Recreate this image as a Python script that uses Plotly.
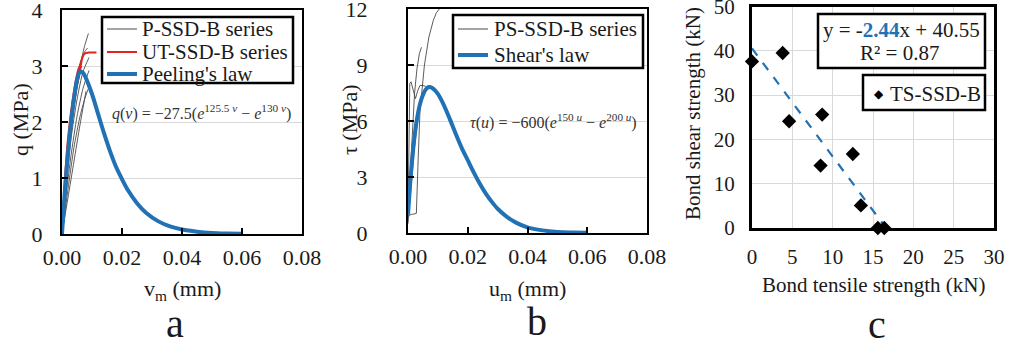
import plotly.graph_objects as go

# ---------------- data ----------------
# Panel a: peeling
peel_v = [0, 0.001, 0.002, 0.003, 0.004, 0.005, 0.006, 0.007, 0.008, 0.010, 0.012, 0.014,
          0.016, 0.018, 0.020, 0.022, 0.025, 0.028, 0.032, 0.036, 0.040, 0.045, 0.050, 0.055, 0.060]
peel_q = [0, 0.80, 1.45, 1.98, 2.42, 2.75, 2.90, 2.88, 2.78, 2.50, 2.15, 1.80,
          1.48, 1.20, 0.98, 0.78, 0.55, 0.38, 0.23, 0.135, 0.08, 0.042, 0.02, 0.01, 0.004]

p_ssd_v = [
    [0, 0.001, 0.002, 0.004, 0.006, 0.0075, 0.0088],
    [0, 0.001, 0.002, 0.004, 0.006, 0.0075, 0.0085],
    [0, 0.0015, 0.003, 0.005, 0.007, 0.009],
    [0, 0.0015, 0.003, 0.005, 0.007, 0.009],
    [0, 0.002, 0.004, 0.006, 0.0075, 0.0088],
    [0, 0.002, 0.004, 0.006, 0.008],
    [0, 0.001, 0.003, 0.005, 0.0065],
]
p_ssd_q = [
    [0, 0.70, 1.30, 2.30, 3.00, 3.35, 3.58],
    [0, 0.80, 1.45, 2.45, 3.05, 3.25, 3.32],
    [0, 0.90, 1.70, 2.40, 2.90, 3.15],
    [0, 0.75, 1.40, 2.10, 2.60, 2.92],
    [0, 0.80, 1.55, 2.10, 2.40, 2.60],
    [0, 0.65, 1.30, 1.95, 2.55],
    [0, 0.90, 1.90, 2.60, 3.00],
]
ut_ssd_v = [
    [0, 0.001, 0.002, 0.004, 0.006, 0.0068, 0.0075, 0.009, 0.0115],
    [0, 0.001, 0.002, 0.004, 0.0055, 0.0065],
]
ut_ssd_q = [
    [0, 0.90, 1.50, 2.35, 2.95, 3.15, 3.22, 3.24, 3.24],
    [0, 1.00, 1.70, 2.55, 2.95, 3.05],
]

# Panel b: shear
shear_u = [0, 0.001, 0.002, 0.003, 0.004, 0.005, 0.006, 0.007, 0.008, 0.010, 0.012, 0.014,
           0.016, 0.018, 0.020, 0.022, 0.024, 0.026, 0.028, 0.030, 0.033, 0.036, 0.040,
           0.045, 0.050, 0.055, 0.060]
shear_t = [1.0, 3.2, 4.9, 6.1, 6.9, 7.4, 7.7, 7.82, 7.78, 7.45, 6.85, 6.1,
           5.3, 4.55, 3.9, 3.25, 2.65, 2.12, 1.68, 1.30, 0.88, 0.57, 0.30,
           0.14, 0.06, 0.03, 0.01]

ps_ssd_u = [
    [0.0004, 0.0008, 0.0015, 0.0028, 0.0033, 0.004, 0.0055, 0.007, 0.0085, 0.0095, 0.0105],
    [0, 0.0008, 0.0015, 0.0022, 0.003, 0.0038, 0.0045],
    [0, 0.0003, 0.0006, 0.001, 0.0018, 0.0025, 0.0032, 0.004, 0.005, 0.006],
    [0, 0.001, 0.002, 0.003, 0.004, 0.005, 0.0065],
]
ps_ssd_t = [
    [0.9, 1.0, 1.0, 1.05, 3.5, 6.5, 9.0, 10.5, 11.4, 11.8, 12.0],
    [1.0, 3.5, 5.8, 7.5, 8.8, 9.6, 9.95],
    [0.8, 5.0, 8.0, 8.1, 7.6, 7.2, 7.6, 7.9, 7.9, 7.85],
    [0.5, 2.5, 4.3, 5.8, 6.8, 7.4, 7.9],
]

# Panel c: tensile vs shear
tensile_kn = [0, 3.8, 4.6, 8.7, 8.5, 12.5, 13.5, 15.6, 16.4]
shear_kn = [37.6, 39.5, 24.1, 25.6, 14.1, 16.7, 5.1, 0, 0]
trend_slope = -2.44
trend_intercept = 40.55
trend_x = [0, 16.6]

x_ticks_ab = [0, 0.02, 0.04, 0.06, 0.08]
y_ticks_a = [0, 1, 2, 3, 4]
y_ticks_b = [0, 3, 6, 9, 12]
x_ticks_c = [0, 5, 10, 15, 20, 25, 30]
y_ticks_c = [0, 10, 20, 30, 40, 50]

# ---------------- style ----------------
W, H = 1009, 347
FONT = "Liberation Serif, Times New Roman, Tinos, DejaVu Serif, serif"
BLUE = "#2171b5"
RED = "#e3241b"
GRAY = "#4a4a4a"
GRID = "#d9d9d9"


def px(x):
    return x / W


def py(y):
    return 1 - y / H


fig = go.Figure()

# Panel a traces
for v, q in zip(p_ssd_v, p_ssd_q):
    fig.add_trace(go.Scatter(x=v, y=q, mode="lines", line=dict(color=GRAY, width=0.9, shape="spline", smoothing=0.6),
                             showlegend=False, xaxis="x", yaxis="y"))
for v, q in zip(ut_ssd_v, ut_ssd_q):
    fig.add_trace(go.Scatter(x=v, y=q, mode="lines", line=dict(color=RED, width=2, shape="spline", smoothing=0.6),
                             showlegend=False, xaxis="x", yaxis="y"))
fig.add_trace(go.Scatter(x=peel_v, y=peel_q, mode="lines", line=dict(color=BLUE, width=4, shape="spline", smoothing=0.8),
                         showlegend=False, xaxis="x", yaxis="y"))

# Panel b traces
for u, t in zip(ps_ssd_u, ps_ssd_t):
    fig.add_trace(go.Scatter(x=u, y=t, mode="lines", line=dict(color=GRAY, width=0.9),
                             showlegend=False, xaxis="x2", yaxis="y2"))
fig.add_trace(go.Scatter(x=shear_u, y=shear_t, mode="lines", line=dict(color=BLUE, width=4, shape="spline", smoothing=0.8),
                         showlegend=False, xaxis="x2", yaxis="y2"))

# Panel c traces
trend_y = [trend_slope * x + trend_intercept for x in trend_x]
fig.add_trace(go.Scatter(x=trend_x, y=trend_y, mode="lines", line=dict(color=BLUE, width=2.2, dash="dash"),
                         showlegend=False, xaxis="x3", yaxis="y3"))
fig.add_trace(go.Scatter(x=tensile_kn, y=shear_kn, mode="markers",
                         marker=dict(symbol="diamond", size=11, color="black"),
                         showlegend=False, xaxis="x3", yaxis="y3", cliponaxis=False))

tickfont = dict(family=FONT, size=22, color="#1a1a1a")
tickfont_c = dict(family=FONT, size=21, color="#1a1a1a")


def ax(domain, anchor, rng, tv, fmt, lw, grid, font, standoff, ticks):
    return dict(domain=domain, anchor=anchor, range=rng, tickvals=tv, tickformat=fmt,
                showline=True, mirror=True, linecolor="black", linewidth=lw,
                showgrid=grid, gridcolor=GRID, gridwidth=1, zeroline=False,
                ticks=ticks, ticklen=6, tickwidth=1.5, tickcolor="black",
                tickfont=font, ticklabelstandoff=standoff, ticklabeloverflow="allow",
                automargin=False, fixedrange=True)


fig.update_layout(
    width=W, height=H,
    margin=dict(l=0, r=0, t=0, b=0, autoexpand=False),
    paper_bgcolor="white", plot_bgcolor="white",
    showlegend=False,
    xaxis=ax([px(62), px(302)], "y", [0, 0.08], x_ticks_ab, ".2f", 2, False, tickfont, 3, "inside"),
    yaxis=ax([py(234), py(10)], "x", [0, 4], y_ticks_a, "d", 2, True, tickfont, 13, "inside"),
    xaxis2=ax([px(408), px(647)], "y2", [0, 0.08], x_ticks_ab, ".2f", 2, False, tickfont, 3, "inside"),
    yaxis2=ax([py(233), py(9)], "x2", [0, 12], y_ticks_b, "d", 2, True, tickfont, 34, "inside"),
    xaxis3=ax([px(752), px(994)], "y3", [0, 30], x_ticks_c, "d", 3, True, tickfont_c, 8, ""),
    yaxis3=ax([py(228), py(6.5)], "x3", [0, 50], y_ticks_c, "d", 3, True, tickfont_c, 10, ""),
)

shapes = []
annotations = []


def text(x, y, s, size=22, xanchor="center", angle=0, color="#1a1a1a", family=FONT):
    annotations.append(dict(x=px(x), y=py(y), xref="paper", yref="paper", text=s, showarrow=False,
                            xanchor=xanchor, yanchor="middle", textangle=angle,
                            font=dict(family=family, size=size, color=color)))


def rect(x0, y0, x1, y1, lw=2.5):
    shapes.append(dict(type="rect", xref="paper", yref="paper", x0=px(x0), x1=px(x1), y0=py(y1), y1=py(y0),
                       line=dict(color="black", width=lw), fillcolor="white", layer="above"))


def seg(x0, x1, y, color, width):
    shapes.append(dict(type="line", xref="paper", yref="paper", x0=px(x0), x1=px(x1), y0=py(y), y1=py(y),
                       line=dict(color=color, width=width), layer="above"))


# Axis titles
text(182, 290, "v<sub>m</sub> (mm)")
text(20, 120, "q (MPa)", angle=-90)
text(527, 290, "u<sub>m</sub> (mm)")
text(349, 120, "τ (MPa)", angle=-90)
text(873, 285, "Bond tensile strength (kN)", size=21)
text(693, 114, "Bond shear strength (kN)", size=21, angle=-90)

# Panel letters
text(175, 323, "a", size=40)
text(537, 321, "b", size=40)
text(877, 324, "c", size=40)

# Legend a
rect(102, 17, 293, 83)
seg(107, 137, 29, GRAY, 1)
seg(107, 137, 52, RED, 2)
seg(107, 137, 74, BLUE, 4)
text(140, 29, "P-SSD-B series", size=21, xanchor="left")
text(140, 52, "UT-SSD-B series", size=21, xanchor="left")
text(140, 74, "Peeling's law", size=21, xanchor="left")

# Legend b
rect(453, 15, 643, 68)
seg(458, 488, 29, GRAY, 1)
seg(458, 488, 55, BLUE, 4)
text(492, 29, "PS-SSD-B series", size=21, xanchor="left")
text(492, 55, "Shear's law", size=21, xanchor="left")

# Equations
text(110, 113, "<i>q</i>(<i>v</i>) = −27.5(<i>e</i><sup>125.5 <i>v</i></sup> − <i>e</i><sup>130 <i>v</i></sup>)",
     size=16, xanchor="left", color="#333333")
text(468, 122, "<i>τ</i>(<i>u</i>) = −600(<i>e</i><sup>150 <i>u</i></sup> − <i>e</i><sup>200 <i>u</i></sup>)",
     size=16, xanchor="left", color="#333333")

# Panel c boxes
rect(818, 14, 985, 68)
text(901, 30, "y = -<b><span style='color:%s'>%.2f</span></b>x + %.2f" % (BLUE, abs(trend_slope), trend_intercept), size=21)
text(899, 53, "R² = 0.87", size=21)
rect(863, 75, 985, 110)
text(879, 94, "◆", size=12, color="black", family="DejaVu Sans")
text(888, 94, "TS-SSD-B", size=21, xanchor="left")

fig.update_layout(shapes=shapes, annotations=annotations)
fig.write_html("out.html", config={"displayModeBar": False},
               post_script="document.body.style.margin='0';document.body.style.overflow='hidden';")
